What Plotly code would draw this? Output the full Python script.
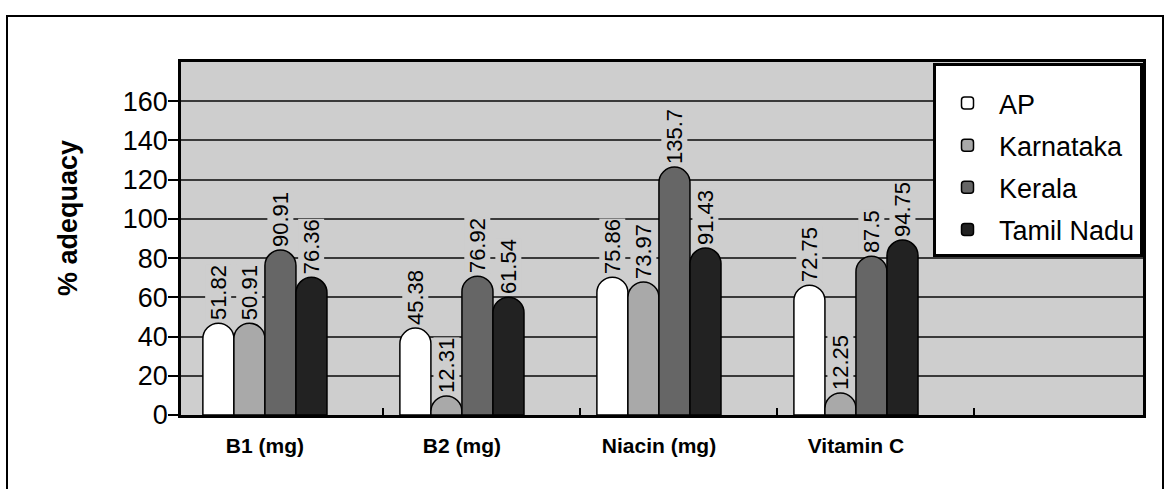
import plotly.graph_objects as go

categories = ["B1 (mg)", "B2 (mg)", "Niacin (mg)", "Vitamin C"]
states = ["AP", "Karnataka", "Kerala", "Tamil Nadu"]

# bar heights as drawn in the picture
ap_height = [46.8, 44.3, 70.3, 66.2]
karnataka_height = [46.8, 9.7, 67.8, 11.2]
kerala_height = [84.1, 70.8, 126.4, 81.0]
tamil_nadu_height = [70.2, 60.1, 85.1, 89.2]

# printed value labels
ap_label = ["51.82", "45.38", "75.86", "72.75"]
karnataka_label = ["50.91", "12.31", "73.97", "12.25"]
kerala_label = ["90.91", "76.92", "135.7", "87.5"]
tamil_nadu_label = ["76.36", "61.54", "91.43", "94.75"]

y_ticks = [0, 20, 40, 60, 80, 100, 120, 140, 160]
boundary_ticks = [0.6, 1.6, 2.6, 3.6]

heights = [ap_height, karnataka_height, kerala_height, tamil_nadu_height]
labels = [ap_label, karnataka_label, kerala_label, tamil_nadu_label]
colors = ["#ffffff", "#a9a9a9", "#666666", "#222222"]

FONT = "Liberation Sans, Arial, sans-serif"
PLOT_BG = "#cecece"
BARGAP = 0.37

x_pos = list(range(len(categories)))

fig = go.Figure()
for name, h, c in zip(states, heights, colors):
    fig.add_trace(go.Bar(
        x=x_pos, y=h, name=name, legendgroup=name,
        marker=dict(color=c, line=dict(color="#000000", width=1.5), cornerradius="50%"),
        hoverinfo="skip",
    ))

n = len(states)
w = (1 - BARGAP) / n
annotations = []
for i, labs in enumerate(labels):
    for j, (xv, hv, t) in enumerate(zip(x_pos, heights[i], labs)):
        annotations.append(dict(
            x=xv - (1 - BARGAP) / 2 + (i + 0.5) * w, y=hv, xref="x", yref="y",
            text=t, showarrow=False, textangle=-90,
            xanchor="center", yanchor="bottom", yshift=2,
            font=dict(family=FONT, size=22, color="#000000"),
            bgcolor=PLOT_BG, borderpad=0,
        ))

# y-axis title
annotations.append(dict(
    x=(68 - 181) / 962, y=(415 - 218) / 353, xref="paper", yref="paper",
    text="% adequacy", showarrow=False, textangle=-90,
    xanchor="center", yanchor="middle",
    font=dict(family=FONT, size=27, color="#000000", weight="bold"),
))

fig.update_layout(
    width=1170, height=489,
    margin=dict(l=181, r=27, t=62, b=74),
    paper_bgcolor="#ffffff", plot_bgcolor=PLOT_BG,
    barmode="group", bargap=BARGAP, bargroupgap=0,
    font=dict(family=FONT, color="#000000"),
    showlegend=True,
    legend=dict(
        x=1, xanchor="right", y=0.997, yanchor="top",
        bgcolor="#ffffff", bordercolor="#000000", borderwidth=3,
        font=dict(family=FONT, size=27, color="#000000"),
        traceorder="grouped", tracegroupgap=4,
        itemwidth=53,
        title=dict(text=" ", font=dict(size=10)),
    ),
    annotations=annotations,
    shapes=[dict(type="rect", xref="paper", yref="paper",
                 x0=(7 - 181) / 962, x1=(1163 - 181) / 962,
                 y0=-0.25, y1=(415 - 16) / 353,
                 line=dict(color="#000000", width=2), layer="below")],
)

fig.update_xaxes(
    range=[-0.426, 4.457],
    tickvals=x_pos, ticktext=categories, ticks="",
    tickfont=dict(family=FONT, size=21, color="#000000", weight="bold"),
    ticklabelstandoff=10,
    showgrid=False, zeroline=False,
    showline=True, linecolor="#000000", linewidth=2.5, mirror=True,
    minor=dict(tickmode="array", tickvals=boundary_ticks, ticks="inside", ticklen=7,
               tickwidth=1.5, tickcolor="#000000", showgrid=False),
)
fig.update_yaxes(
    range=[0, 180], tickvals=y_ticks,
    ticks="outside", ticklen=10, tickwidth=1.5, tickcolor="#000000",
    tickfont=dict(family=FONT, size=27, color="#000000"),
    ticklabelstandoff=-5,
    showgrid=True, gridcolor="#3a3a3a", gridwidth=1.5, zeroline=False,
    showline=True, linecolor="#000000", linewidth=2.5, mirror=True,
)

fig.write_html("out.html")
